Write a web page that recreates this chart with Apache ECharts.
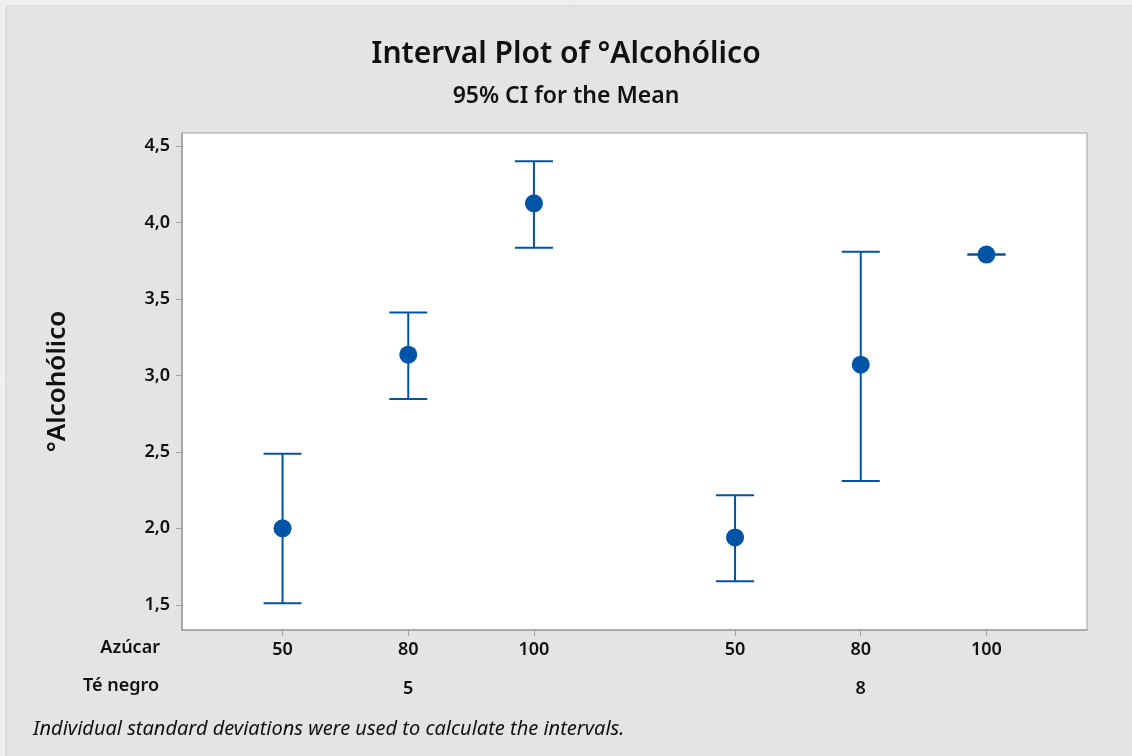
<!DOCTYPE html>
<html>
<head>
<meta charset="utf-8">
<script src="https://cdn.jsdelivr.net/npm/echarts@6/dist/echarts.min.js"></script>
<style>
  html, body { margin: 0; padding: 0; background: #efefef; }
  #chart { width: 1132px; height: 756px; }
</style>
</head>
<body>
<div id="chart"></div>
<script>
// Group positions on the x scale (two Té negro groups, three Azúcar levels each)
const positions = [0, 1, 2, 3.6, 4.6, 5.6];
const azucar = ['50', '80', '100', '50', '80', '100'];
const teNegroPos = [1, 4.6];
const teNegro = ['5', '8'];

// Means and 95% CI bounds of °Alcohólico
const means = [2.00, 3.135, 4.125, 1.94, 3.07, 3.79];
const lower = [1.51, 2.846, 3.835, 1.653, 2.309, 3.79];
const upper = [2.488, 3.411, 4.401, 2.216, 3.809, 3.79];

const yTicks = [1.5, 2.0, 2.5, 3.0, 3.5, 4.0, 4.5];

const FONT = '"Noto Sans", "Open Sans", sans-serif';
const BLUE = '#0054A6';

const data = positions.map((x, i) => [x, means[i], lower[i], upper[i]]);

const chart = echarts.init(document.getElementById('chart'));

chart.setOption({
  backgroundColor: '#efefef',
  animation: false,
  graphic: [
    {
      type: 'rect', z: -10, silent: true,
      shape: { x: 6, y: 6, width: 1132, height: 756 },
      style: { fill: '#e4e4e4', stroke: '#d2d2d2', lineWidth: 1 }
    },
    {
      type: 'text', left: 'center', top: 39,
      style: { text: 'Interval Plot of °Alcohólico', font: '600 30px ' + FONT, fill: '#111' }
    },
    {
      type: 'text', left: 'center', top: 85,
      style: { text: '95% CI for the Mean', font: '600 23px ' + FONT, fill: '#111' }
    },
    {
      type: 'text', right: 1132 - 160, top: 639,
      style: { text: 'Azúcar', font: '600 18px ' + FONT, fill: '#111', align: 'right' }
    },
    {
      type: 'text', right: 1132 - 159, top: 677,
      style: { text: 'Té negro', font: '600 18px ' + FONT, fill: '#111', align: 'right' }
    },
    {
      type: 'text', left: 33, top: 719,
      style: {
        text: 'Individual standard deviations were used to calculate the intervals.',
        font: 'italic 20px ' + FONT, fill: '#111'
      }
    }
  ],
  grid: {
    left: 182, top: 133, right: 45, bottom: 126,
    show: true, backgroundColor: '#ffffff', borderColor: '#a0a0a0', borderWidth: 1
  },
  xAxis: [
    {
      type: 'value', min: -0.8, max: 6.4, position: 'bottom',
      splitLine: { show: false },
      axisLine: { show: true, onZero: false, lineStyle: { color: '#a0a0a0', width: 1.5 } },
      axisTick: { show: true, length: 6, customValues: positions, lineStyle: { color: '#a0a0a0' } },
      axisLabel: {
        customValues: positions, margin: 11,
        formatter: (v) => azucar[positions.findIndex(p => Math.abs(p - v) < 1e-6)] || '',
        fontWeight: 600, fontSize: 18, fontFamily: FONT, color: '#111'
      }
    },
    {
      type: 'value', min: -0.8, max: 6.4, position: 'bottom', offset: 39,
      splitLine: { show: false },
      axisLine: { show: false, onZero: false },
      axisTick: { show: false },
      axisLabel: {
        customValues: teNegroPos, margin: 11,
        formatter: (v) => teNegro[teNegroPos.findIndex(p => Math.abs(p - v) < 1e-6)] || '',
        fontWeight: 600, fontSize: 18, fontFamily: FONT, color: '#111'
      }
    }
  ],
  yAxis: {
    type: 'value', min: 1.335, max: 4.585, position: 'left',
    name: '°Alcohólico', nameLocation: 'middle', nameGap: 111, nameRotate: 90,
    nameTextStyle: { fontWeight: 600, fontSize: 26, fontFamily: FONT, color: '#111' },
    splitLine: { show: false },
    axisLine: { show: true, onZero: false, lineStyle: { color: '#a0a0a0', width: 1.5 } },
    axisTick: { show: true, length: 6, customValues: yTicks, lineStyle: { color: '#a0a0a0' } },
    axisLabel: {
      customValues: yTicks, margin: 12,
      formatter: (v) => v.toFixed(1).replace('.', ','),
      fontWeight: 600, fontSize: 18, fontFamily: FONT, color: '#111'
    }
  },
  series: [
    {
      type: 'custom',
      xAxisIndex: 0,
      data: data,
      encode: { x: 0, y: [1, 2, 3] },
      renderItem: (params, api) => {
        const x = api.value(0);
        const pMean = api.coord([x, api.value(1)]);
        const pLo = api.coord([x, api.value(2)]);
        const pHi = api.coord([x, api.value(3)]);
        const half = 19;
        const lineStyle = { stroke: BLUE, lineWidth: 2 };
        return {
          type: 'group',
          children: [
            { type: 'line', shape: { x1: pLo[0], y1: pLo[1], x2: pHi[0], y2: pHi[1] }, style: lineStyle },
            { type: 'line', shape: { x1: pHi[0] - half, y1: pHi[1], x2: pHi[0] + half, y2: pHi[1] }, style: lineStyle },
            { type: 'line', shape: { x1: pLo[0] - half, y1: pLo[1], x2: pLo[0] + half, y2: pLo[1] }, style: lineStyle },
            { type: 'circle', shape: { cx: pMean[0], cy: pMean[1], r: 9 }, style: { fill: BLUE } }
          ]
        };
      }
    }
  ]
});
</script>
</body>
</html>
